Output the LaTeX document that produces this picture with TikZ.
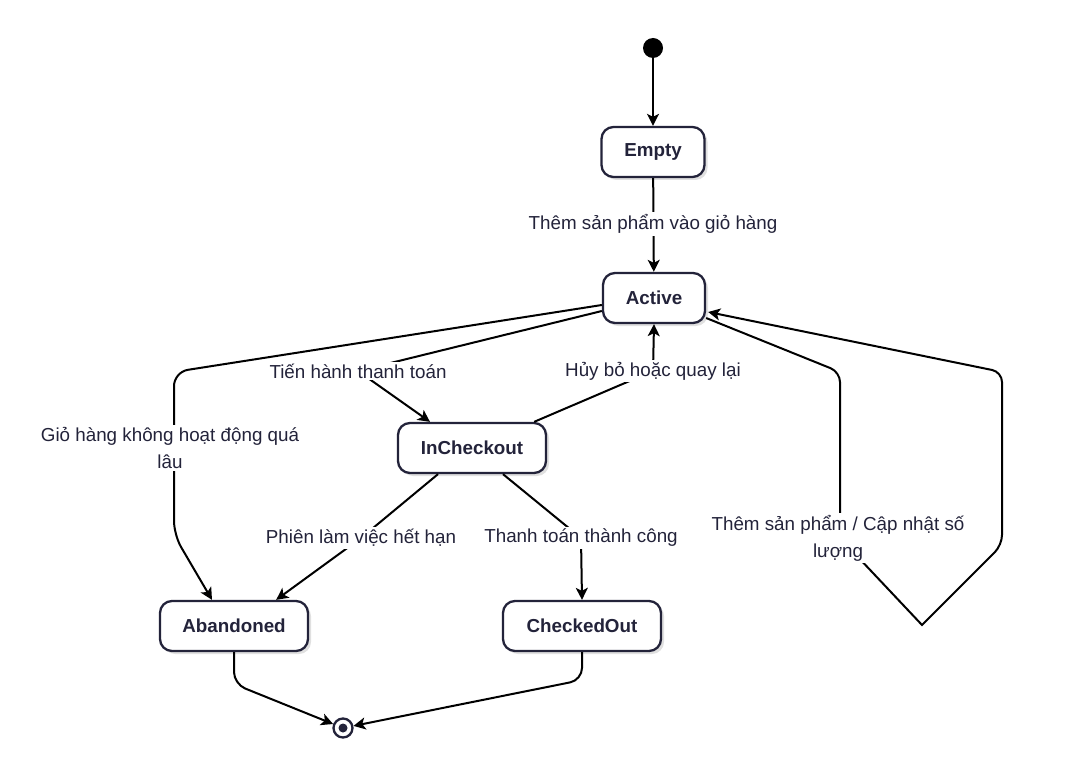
\documentclass[tikz,border=0pt]{standalone}
\usepackage{fontspec}
\setmainfont{Liberation Sans}
\usetikzlibrary{arrows.meta,calc,shadows}
\definecolor{ink}{HTML}{23233A}
\definecolor{edge}{HTML}{000000}
\begin{document}
\begin{tikzpicture}[x=1pt,y=-1pt,
  state/.style={draw=ink, line width=2.3pt, fill=white, rounded corners=12pt,
    minimum height=50pt, text=ink, font=\fontsize{18.8}{22}\selectfont\bfseries,
    drop shadow={shadow xshift=3pt, shadow yshift=-3pt, opacity=0.12, fill=black}},
  trans/.style={draw=edge, line width=2pt, -{Stealth[length=12pt,width=12pt,inset=3pt]}},
  lbl/.style={fill=white, text=ink, inner sep=2pt, align=center,
    font=\fontsize{18.8}{27}\selectfont}]
\useasboundingbox (0,0) rectangle (1076,759);

% states
\node[circle, fill=black, minimum size=20pt, inner sep=0pt] (init) at (653,48) {};
\node[state, minimum width=103pt] (empty) at (653,152) {Empty};
\node[state, minimum width=102pt] (act) at (654,298) {Active};
\node[state, minimum width=148pt] (inc) at (472,448) {InCheckout};
\node[state, minimum width=148pt] (abd) at (234,626) {Abandoned};
\node[state, minimum width=158pt] (co) at (582,626) {CheckedOut};
\node[circle, draw=ink, line width=2.3pt, fill=white, minimum size=19pt, inner sep=0pt] (fin) at (343,728) {};
\node[circle, fill=ink, minimum size=9pt, inner sep=0pt] (findot) at (fin) {};

% bend points
\coordinate (p1) at (174,372);
\coordinate (p2) at (174,535);
\coordinate (q1) at (358,371);
\coordinate (r1) at (653,371);
\coordinate (s1) at (840,372);
\coordinate (s2) at (840,538);
\coordinate (s3) at (922,625);
\coordinate (s4) at (1002,545);
\coordinate (s5) at (1002,372);
\coordinate (t1) at (361,538);
\coordinate (u1) at (581,538);
\coordinate (v1) at (234,684);
\coordinate (v2) at (582,680);

% transitions
\draw[trans] (init) -- (empty);
\draw[trans] (empty) -- (act);
\draw[trans, rounded corners=14pt] ($(act.west)+(0,7)$) -- (p1) -- (p2) -- ($(abd.north)+(-22,0)$);
\draw[trans] ($(act.west)+(0,13)$) -- (q1) -- ($(inc.north)+(-42,0)$);
\draw[trans] ($(inc.north east)+(-13,0)$) -- (r1) -- (act.south);
\draw[trans, rounded corners=10pt] ($(act.east)+(0,20)$) -- (s1) -- (s2)
  [sharp corners] -- (s3) [rounded corners=10pt] -- (s4) -- (s5) -- ($(act.east)+(2,14)$);
\draw[trans] ($(inc.south)+(-34,0)$) -- (t1) -- ($(abd.north east)+(-33,0)$);
\draw[trans] ($(inc.south)+(31,0)$) -- (u1) -- (co.north);
\draw[trans, rounded corners=12pt] (abd.south) -- (v1) -- (fin);
\draw[trans, rounded corners=12pt] (co.south) -- (v2) -- (fin);

% transition labels
\node[lbl] (l1) at (653,224) {Thêm sản phẩm vào giỏ hàng};
\node[lbl] (l2) at (170,448) {Giỏ hàng không hoạt động quá\\lâu};
\node[lbl] (l3) at (358,371) {Tiến hành thanh toán};
\node[lbl] (l4) at (653,371) {Hủy bỏ hoặc quay lại};
\node[lbl] (l5) at (838,538) {Thêm sản phẩm / Cập nhật số\\lượng};
\node[lbl] (l6) at (361,538) {Phiên làm việc hết hạn};
\node[lbl] (l7) at (581,538) {Thanh toán thành công};
\end{tikzpicture}
\end{document}
